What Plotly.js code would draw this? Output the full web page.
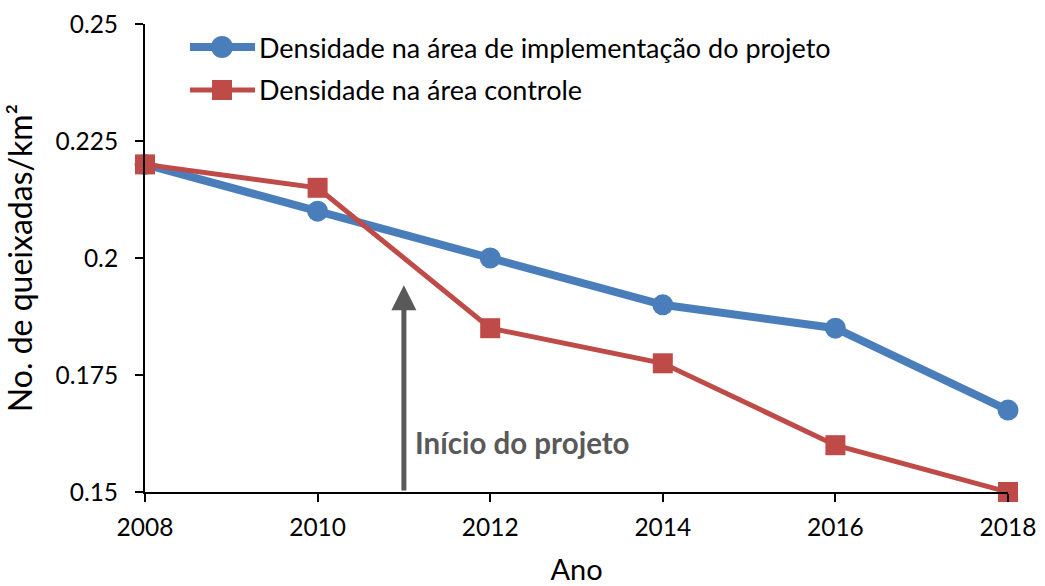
<!DOCTYPE html>
<html>
<head>
<meta charset="utf-8">
<script src="https://cdn.plot.ly/plotly-3.0.1.min.js"></script>
<style>html,body{margin:0;padding:0;background:#fff;}#chart{width:1045px;height:586px;}</style>
</head>
<body>
<div id="chart"></div>
<script>
const years = [2008, 2010, 2012, 2014, 2016, 2018];
const densidadeProjeto = [0.22, 0.21, 0.2, 0.19, 0.185, 0.1675];
const densidadeControle = [0.22, 0.215, 0.185, 0.1775, 0.16, 0.15];
const seriesNames = ["Densidade na área de implementação do projeto", "Densidade na área controle"];
const yTickVals = [0.15, 0.175, 0.2, 0.225, 0.25];
const yTickText = ["0.15", "0.175", "0.2", "0.225", "0.25"];
const xTickVals = [2008, 2010, 2012, 2014, 2016, 2018];
const inicioAno = 2011;
const arrowTop = 0.1942;
const arrowBase = 0.15;
const labelY = 0.1605;
const colors = ["#4A7EBB", "#BE4B48"];

const FONT = "Lato, 'Noto Sans', sans-serif";

const traces = [
  {
    x: years, y: densidadeProjeto, name: seriesNames[0], type: "scatter", mode: "lines+markers",
    line: {color: colors[0], width: 8},
    marker: {symbol: "circle", size: 21, color: colors[0]},
    cliponaxis: false, showlegend: false
  },
  {
    x: years, y: densidadeControle, name: seriesNames[1], type: "scatter", mode: "lines+markers",
    line: {color: colors[1], width: 5},
    marker: {symbol: "square", size: 20, color: colors[1]},
    cliponaxis: false, showlegend: false
  }
];

// custom legend (paper coordinates)
const legRows = [0.9508, 0.8590];
const legLineX = [0.0521, 0.1275];
const legMarkX = 0.0892;
const legTextX = 0.1297;
const shapes = [
  {type: "line", xref: "paper", yref: "paper", x0: legLineX[0], x1: legLineX[1], y0: legRows[0], y1: legRows[0],
   line: {color: colors[0], width: 8}},
  {type: "circle", xref: "paper", yref: "paper", xsizemode: "pixel", ysizemode: "pixel",
   xanchor: legMarkX, yanchor: legRows[0], x0: -11, x1: 11, y0: -11, y1: 11,
   fillcolor: colors[0], line: {width: 0}},
  {type: "line", xref: "paper", yref: "paper", x0: legLineX[0], x1: legLineX[1], y0: legRows[1], y1: legRows[1],
   line: {color: colors[1], width: 5}},
  {type: "rect", xref: "paper", yref: "paper", xsizemode: "pixel", ysizemode: "pixel",
   xanchor: legMarkX, yanchor: legRows[1], x0: -10, x1: 10, y0: -10, y1: 10,
   fillcolor: colors[1], line: {width: 0}}
];

const layout = {
  width: 1045, height: 586,
  margin: {l: 145, r: 37, t: 24, b: 94},
  paper_bgcolor: "#fff", plot_bgcolor: "#fff",
  font: {family: FONT, color: "#000", size: 24},
  showlegend: false,
  shapes: shapes,
  xaxis: {
    range: [2008, 2018], tickvals: xTickVals, ticks: "outside", ticklen: 8, tickwidth: 2,
    tickcolor: "#000", showline: true, linecolor: "#000", linewidth: 2, showgrid: false, zeroline: false,
    tickfont: {size: 24.5, family: FONT}, ticklabelstandoff: 5,
    title: {text: "Ano", font: {size: 29, family: FONT}, standoff: 19}
  },
  yaxis: {
    range: [0.15, 0.25], tickvals: yTickVals, ticktext: yTickText, ticks: "outside", ticklen: 8, tickwidth: 2,
    tickcolor: "#000", showline: true, linecolor: "#000", linewidth: 2, showgrid: false, zeroline: false,
    tickfont: {size: 24.5, family: FONT}, ticklabelstandoff: 12,
    title: {text: "No. de queixadas/km²", font: {size: 32, family: FONT}, standoff: 14}
  },
  annotations: [
    {
      x: inicioAno, y: arrowTop, ax: inicioAno, ay: arrowBase, axref: "x", ayref: "y", xref: "x", yref: "y",
      text: "", showarrow: true, arrowhead: 2, arrowsize: 1, arrowwidth: 5, arrowcolor: "#595959"
    },
    {
      x: inicioAno, y: labelY, xref: "x", yref: "y", xanchor: "left", yanchor: "middle", xshift: 9,
      text: "<b>Início do projeto</b>", showarrow: false, font: {size: 29.5, color: "#595959", family: FONT}
    },
    {
      x: legTextX, y: legRows[0], xref: "paper", yref: "paper", xanchor: "left", yanchor: "middle",
      text: seriesNames[0], showarrow: false, font: {size: 27, color: "#000", family: FONT}
    },
    {
      x: legTextX, y: legRows[1], xref: "paper", yref: "paper", xanchor: "left", yanchor: "middle",
      text: seriesNames[1], showarrow: false, font: {size: 27, color: "#000", family: FONT}
    }
  ]
};

Plotly.newPlot("chart", traces, layout, {displayModeBar: false, staticPlot: true});
</script>
</body>
</html>
